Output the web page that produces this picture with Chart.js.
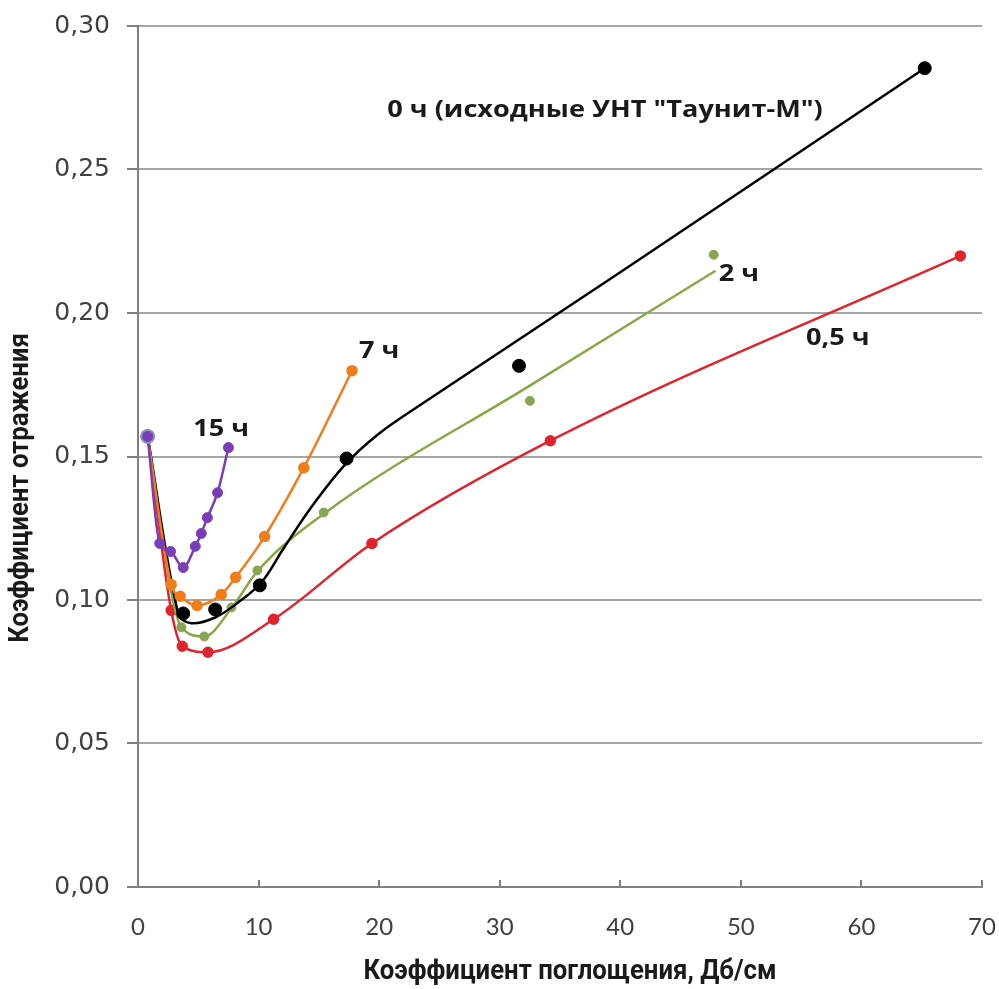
<!DOCTYPE html>
<html>
<head>
<meta charset="utf-8">
<script src="https://cdn.jsdelivr.net/npm/chart.js@4.4.1/dist/chart.umd.min.js"></script>
<style>
  html, body { margin: 0; padding: 0; background: #fff; }
  #wrap { width: 999px; height: 989px; position: relative; }
</style>
</head>
<body>
<div id="wrap"><canvas id="reflChart" width="999" height="989"></canvas></div>
<script>
// measured points, x = absorption (dB/cm), y = reflection coefficient
const blackX = [0.8, 3.75, 6.4, 10.1, 17.3, 31.6, 65.25];
const blackY = [0.157, 0.0953, 0.0967, 0.1051, 0.1493, 0.1816, 0.2853];
// smoothed trend for the 0 h series
const blackFitX = [0.8, 3.33, 4.4, 6.4, 8.33, 10.25, 12, 14.4, 17.25, 20, 23, 40, 65.25];
const blackFitY = [0.157, 0.0953, 0.0919, 0.0939, 0.0992, 0.1062, 0.1175, 0.1325, 0.1475, 0.158, 0.1668, 0.2142, 0.2853];

const redX = [0.8, 2.75, 3.67, 5.8, 11.25, 19.4, 34.2, 68.2];
const redY = [0.157, 0.0964, 0.0839, 0.0818, 0.0933, 0.1197, 0.1555, 0.2199];

const greenX = [0.8, 3.6, 5.5, 7.75, 9.9, 15.4, 32.5, 47.75];
const greenY = [0.157, 0.0905, 0.0873, 0.0974, 0.1103, 0.1305, 0.1694, 0.2203];
const greenFitX = [0.8, 3.6, 5.5, 7.75, 9.9, 15.4, 32.5, 47.9];
const greenFitY = [0.157, 0.0905, 0.0873, 0.0971, 0.11, 0.13, 0.1747, 0.2147];

const orangeX = [0.8, 2.75, 3.5, 4.9, 6.9, 8.1, 10.5, 13.75, 17.75];
const orangeY = [0.157, 0.1054, 0.1013, 0.0981, 0.1019, 0.1079, 0.1221, 0.1461, 0.1799];

const purpleX = [0.8, 1.8, 2.7, 3.75, 4.75, 5.25, 5.75, 6.6, 7.5];
const purpleY = [0.157, 0.1197, 0.1169, 0.1113, 0.1187, 0.1232, 0.1287, 0.1374, 0.1531];

const xTicks = [0, 10, 20, 30, 40, 50, 60, 70];
const yTicks = [0, 0.05, 0.1, 0.15, 0.2, 0.25, 0.3];

const noteText = ['0 ч (исходные УНТ "Таунит-М")', '15 ч', '7 ч', '2 ч', '0,5 ч'];
const noteX = [20.67, 4.58, 18.33, 48.17, 55.4];
const noteY = [0.2705, 0.1593, 0.1865, 0.2135, 0.191];

const xTitle = 'Коэффициент поглощения, Дб/см';
const yTitle = 'Коэффициент отражения';

const pts = (xs, ys) => xs.map((x, i) => ({ x: x, y: ys[i] }));

// condensed bold text: Roboto squeezed horizontally
function narrowText(ctx, text, x, y, angle) {
    ctx.save();
    ctx.translate(x, y);
    ctx.rotate(angle);
    ctx.scale(0.92, 1);
    ctx.font = 'bold 28px Roboto, sans-serif';
    ctx.fillStyle = '#1a1a1a';
    ctx.textAlign = 'center';
    ctx.textBaseline = 'middle';
    ctx.fillText(text, 0, 0);
    ctx.restore();
}

// labels next to the curves, inside-pointing x ticks and both axis titles
const extras = {
    id: 'extras',
    afterDraw(chart) {
        const ctx = chart.ctx;
        const xs = chart.scales.x, ys = chart.scales.y;
        const area = chart.chartArea;
        ctx.save();
        ctx.strokeStyle = '#7f7f7f';
        ctx.lineWidth = 2;
        xTicks.forEach(v => {
            if (v === 0) return;
            const px = Math.round(xs.getPixelForValue(v));
            ctx.beginPath();
            ctx.moveTo(px, area.bottom);
            ctx.lineTo(px, area.bottom - 7);
            ctx.stroke();
        });
        ctx.restore();
        noteText.forEach((t, i) => {
            ctx.save();
            ctx.translate(xs.getPixelForValue(noteX[i]), ys.getPixelForValue(noteY[i]));
            ctx.scale(1.18, 1);
            ctx.fillStyle = '#1a1a1a';
            ctx.font = 'bold 23px "Open Sans", sans-serif';
            ctx.textBaseline = 'middle';
            ctx.textAlign = 'left';
            ctx.fillText(t, 0, 0);
            ctx.restore();
        });
        narrowText(ctx, xTitle, 570, 972, 0);
        narrowText(ctx, yTitle, 21, 488, -Math.PI / 2);
    }
};

const lineSet = (data, color, width) => ({
    data: data,
    showLine: true,
    borderColor: color,
    borderWidth: width,
    pointRadius: 0,
    pointHoverRadius: 0,
    cubicInterpolationMode: 'monotone',
    fill: false
});

const dotSet = (data, color, r) => ({
    data: data,
    showLine: false,
    pointRadius: r,
    pointBackgroundColor: color,
    pointBorderColor: color,
    pointBorderWidth: 1
});

const ctx = document.getElementById('reflChart').getContext('2d');
const reflChart = new Chart(ctx, {
    type: 'scatter',
    data: {
        datasets: [
            // purple (15 h) drawn on top, its first point marks the common start
            Object.assign(lineSet(pts(purpleX, purpleY), '#7a3db8', 2.5), {
                pointRadius: purpleX.map((v, i) => i === 0 ? 6.5 : 5),
                pointBackgroundColor: '#7a3db8',
                pointBorderColor: purpleX.map((v, i) => i === 0 ? '#8a93b8' : '#7a3db8'),
                pointBorderWidth: purpleX.map((v, i) => i === 0 ? 2 : 1)
            }),
            Object.assign(lineSet(pts(orangeX, orangeY), '#f07d1a', 2.5), {
                pointRadius: 4.5, pointBackgroundColor: '#f07d1a', pointBorderColor: '#f07d1a'
            }),
            dotSet(pts(blackX, blackY), '#000000', 6.5),
            Object.assign(lineSet(pts(blackFitX, blackFitY), '#000000', 2.5), {
                cubicInterpolationMode: 'default',
                tension: 0.35
            }),
            dotSet(pts(greenX, greenY), '#8aa452', 4.5),
            lineSet(pts(greenFitX, greenFitY), '#86a846', 2.5),
            Object.assign(lineSet(pts(redX, redY), '#e0242e', 2.5), {
                pointRadius: 4.5, pointBackgroundColor: '#e0242e', pointBorderColor: '#e0242e'
            })
        ]
    },
    options: {
        responsive: false,
        maintainAspectRatio: false,
        animation: false,
        layout: { padding: { left: 0, right: 17, top: 26, bottom: 0 } },
        plugins: {
            legend: { display: false },
            tooltip: { enabled: false }
        },
        scales: {
            x: {
                type: 'linear',
                min: 0,
                max: 70,
                afterBuildTicks: scale => { scale.ticks = xTicks.map(v => ({ value: v })); },
                afterFit: scale => {
                    scale.height = 102;
                    scale.paddingLeft = 0;
                    scale.paddingRight = 0;
                },
                ticks: {
                    font: { family: 'Lato, sans-serif', size: 24 },
                    color: '#404040',
                    padding: 26,
                    maxRotation: 0
                },
                grid: { display: false, drawTicks: false },
                border: { display: true, color: '#7f7f7f', width: 2 }
            },
            y: {
                type: 'linear',
                min: 0,
                max: 0.3,
                afterBuildTicks: scale => { scale.ticks = yTicks.map(v => ({ value: v })); },
                afterFit: scale => {
                    scale.width = 138;
                    scale.paddingTop = 0;
                    scale.paddingBottom = 0;
                },
                ticks: {
                    font: { family: '"DejaVu Sans", sans-serif', size: 25 },
                    color: '#404048',
                    padding: 17,
                    callback: v => v.toFixed(2).replace('.', ',')
                },
                grid: {
                    color: '#a6a6a6',
                    lineWidth: 2,
                    tickLength: 11,
                    tickColor: '#7f7f7f'
                },
                border: { display: true, color: '#7f7f7f', width: 2 }
            }
        }
    },
    plugins: [extras]
});
</script>
</body>
</html>
